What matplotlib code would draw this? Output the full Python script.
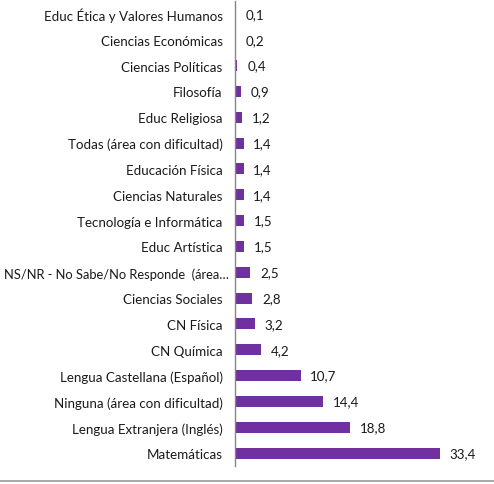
import matplotlib.pyplot as plt
from matplotlib.lines import Line2D
from matplotlib.transforms import ScaledTranslation

categorias = ['Matemáticas', 'Lengua Extranjera (Inglés)', 'Ninguna (área con dificultad)',
              'Lengua Castellana (Español)', 'CN Química', 'CN Física', 'Ciencias Sociales',
              'NS/NR - No Sabe/No Responde  (área…', 'Educ Artística', 'Tecnología e Informática',
              'Ciencias Naturales', 'Educación Física', 'Todas (área con dificultad)',
              'Educ Religiosa', 'Filosofía', 'Ciencias Políticas', 'Ciencias Económicas',
              'Educ Ética y Valores Humanos']
valores = [33.4, 18.8, 14.4, 10.7, 4.2, 3.2, 2.8, 2.5, 1.5, 1.5, 1.4, 1.4, 1.4, 1.2, 0.9, 0.4, 0.2, 0.1]

plt.rcParams['font.family'] = ['Lato', 'DejaVu Sans']

fig = plt.figure(figsize=(4.94, 4.85), dpi=100)
ax = fig.add_axes([235/494, 18/485, 245/494, 465/485])

pos = list(range(len(categorias)))
ax.barh(pos, valores, height=0.43, color='#7030A0')
for p, v in zip(pos, valores):
    ax.annotate(f'{v:.1f}'.replace('.', ','), (v, p), xytext=(7, 0), textcoords='offset points',
                va='center', ha='left', fontsize=9.6, color='#1a1a1a')

ax.set_yticks(pos)
ax.set_yticklabels(categorias, fontsize=9.6, color='#1a1a1a')
ax.set_ylim(-0.5, 17.5)
ax.set_xlim(0, 40)
ax.tick_params(axis='y', length=0, pad=9)
# la etiqueta larga va un poco mas pegada al eje
lab = ax.get_yticklabels()[7]
lab.set_fontsize(9.3)
lab.set_transform(lab.get_transform() + ScaledTranslation(6/100, 0, fig.dpi_scale_trans))
ax.set_xticks([])
for s in ['top', 'right', 'bottom']:
    ax.spines[s].set_visible(False)
ax.spines['left'].set_color('#868686')
ax.spines['left'].set_linewidth(1)

fig.add_artist(Line2D([0, 1], [3/485, 3/485], color='#9a9a9a', lw=1.2, transform=fig.transFigure))

fig.savefig('out.png', dpi=100)
